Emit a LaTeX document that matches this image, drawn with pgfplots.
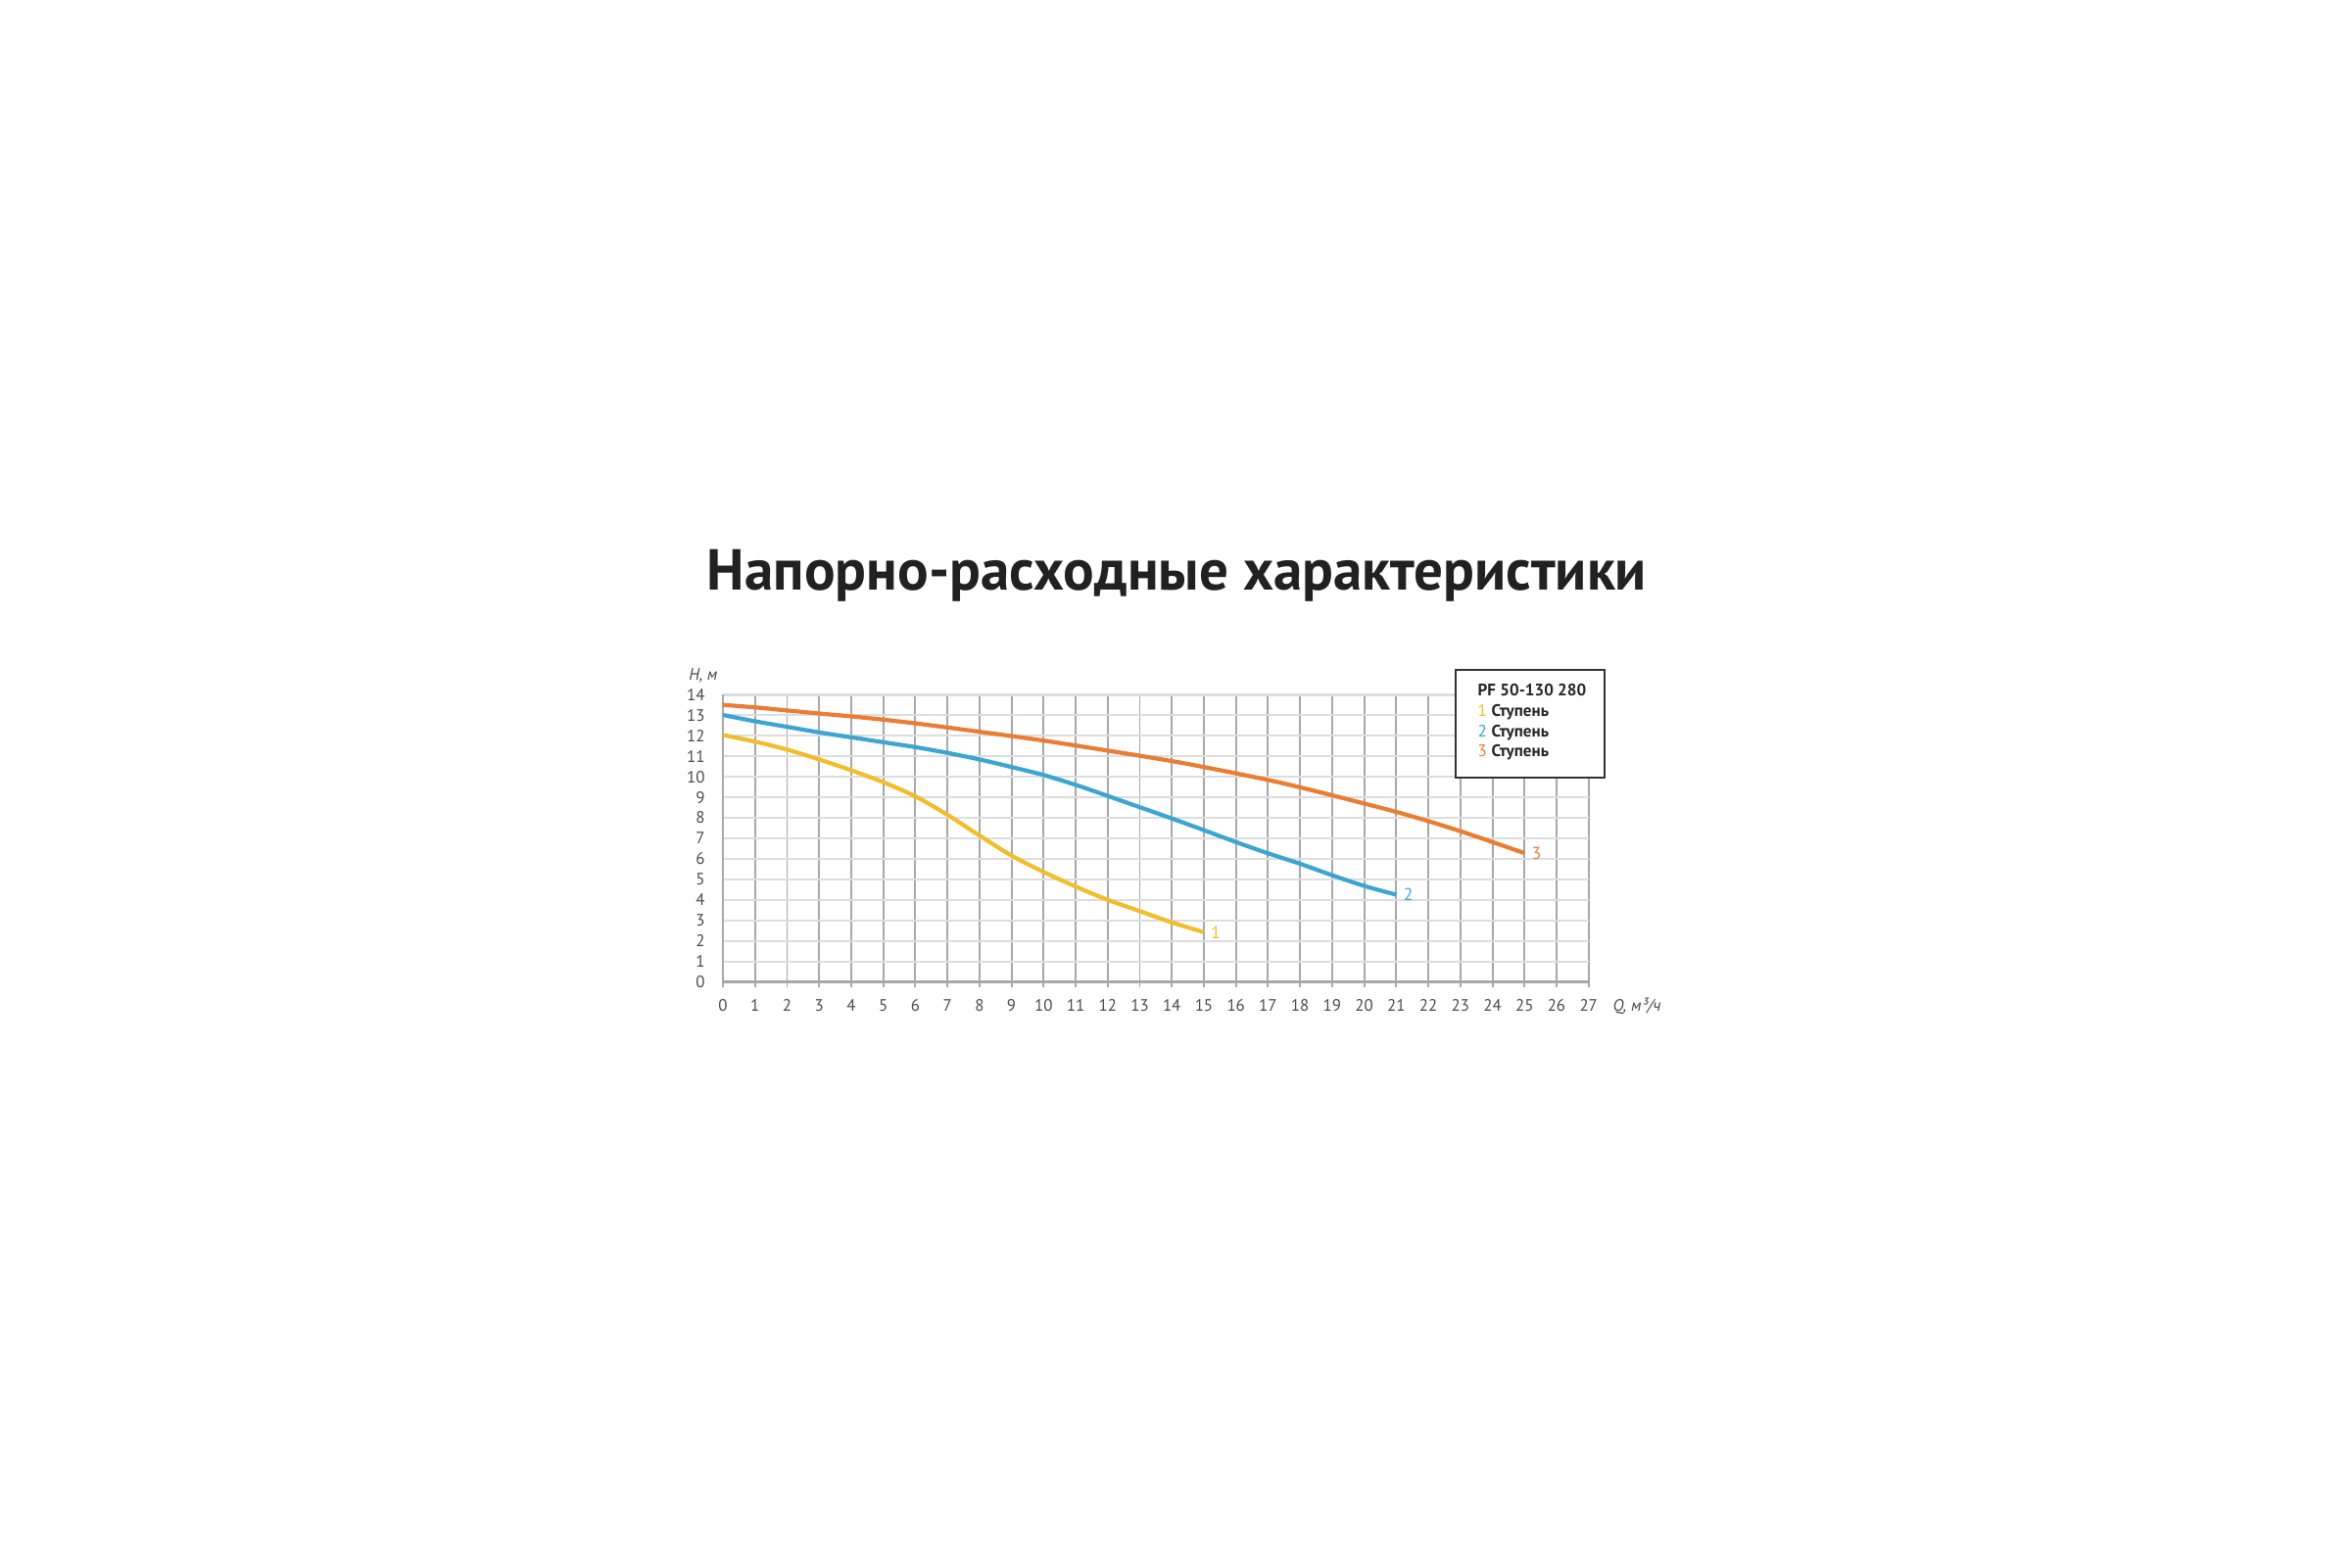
\documentclass[border=0pt]{standalone}
\usepackage{pgfplots}
\pgfplotsset{compat=1.18}
\usepackage{fontspec}
\setmainfont{PT Sans}
\definecolor{c1}{HTML}{F2BD2C}
\definecolor{c2}{HTML}{3CA6D3}
\definecolor{c3}{HTML}{EB7D33}
\definecolor{vgrid}{HTML}{A8A8A8}
\definecolor{hgrid}{HTML}{DDDDDD}
\definecolor{txt}{HTML}{4A4A4A}
\begin{document}
\begin{tikzpicture}
\useasboundingbox (0,0) rectangle (24cm,16cm);
\node[anchor=base, font=\fontsize{16.8}{20}\selectfont\bfseries, text=black!87] at (12.015cm,9.97cm) {Напорно-расходные характеристики};
\begin{axis}[
  at={(7.38cm,5.975cm)}, anchor=south west, scale only axis,
  width=8.837cm, height=2.93cm,
  xmin=0, xmax=27, ymin=0, ymax=14,
  xtick={0,...,27}, ytick={0,...,14},
  axis x line*=bottom, axis y line*=left,
  x axis line style={vgrid, line width=0.6pt},
  y axis line style={vgrid, line width=0.6pt},
  xmajorgrids, ymajorgrids,
  x grid style={vgrid, line width=0.55pt},
  y grid style={hgrid, line width=0.6pt},
  tick align=outside, major tick length=0.06cm,
  xtick style={vgrid, line width=0.55pt},
  ytick style={draw=none},
  tick label style={font=\fontsize{4.8}{5.6}\selectfont, text=txt},
  /pgf/number format/assume math mode=true,
  clip=false,
]
\addplot[c1, line width=1.2pt, smooth] coordinates {
  (0,12.04)(1,11.72)(2,11.33)(3,10.85)(4,10.32)(5,9.74)(6,9.05)(7,8.15)
  (8,7.14)(9,6.16)(10,5.36)(11,4.65)(12,4.0)(13,3.45)(14,2.9)(15,2.42)};
\addplot[c2, line width=1.2pt, smooth] coordinates {
  (0,13.02)(1,12.71)(2,12.44)(3,12.17)(4,11.93)(5,11.69)(6,11.45)(7,11.17)
  (8,10.85)(9,10.48)(10,10.09)(11,9.61)(12,9.07)(13,8.52)(14,7.97)(15,7.4)
  (16,6.82)(17,6.27)(18,5.76)(19,5.2)(20,4.68)(21,4.25)};
\addplot[c3, line width=1.2pt, smooth] coordinates {
  (0,13.51)(1,13.39)(2,13.24)(3,13.09)(4,12.95)(5,12.79)(6,12.61)(7,12.41)
  (8,12.2)(9,11.99)(10,11.77)(11,11.53)(12,11.28)(13,11.03)(14,10.77)(15,10.48)
  (16,10.17)(17,9.85)(18,9.49)(19,9.1)(20,8.7)(21,8.29)(22,7.84)(23,7.35)
  (24,6.82)(25,6.28)};
\node[anchor=west, text=c1, font=\fontsize{5}{6}\selectfont, inner sep=1pt] at (axis cs:15.1,2.42) {1};
\node[anchor=west, text=c2, font=\fontsize{5}{6}\selectfont, inner sep=1pt] at (axis cs:21.1,4.25) {2};
\node[anchor=west, text=c3, font=\fontsize{5}{6}\selectfont, inner sep=1pt] at (axis cs:25.1,6.28) {3};
\end{axis}
\node[anchor=east, font=\fontsize{4.8}{5.6}\selectfont\itshape, text=txt, inner sep=0pt] at (7.33cm,9.10cm) {H, м};
\node[anchor=west, font=\fontsize{4.8}{5.6}\selectfont\itshape, text=txt, inner sep=0pt] at (16.46cm,5.73cm) {Q, м³/ч};
\draw[draw=black!80, fill=white, line width=0.6pt] (14.86cm,8.06cm) rectangle (16.38cm,9.16cm);
\begin{scope}[every node/.style={anchor=base west, inner sep=0pt, font=\fontsize{4.85}{5.6}\selectfont, text=black!85}]
\node at (15.08cm,8.89cm) {\bfseries PF 50-130 280};
\node at (15.08cm,8.68cm) {\textcolor{c1}{1} \bfseries Ступень};
\node at (15.08cm,8.47cm) {\textcolor{c2}{2} \bfseries Ступень};
\node at (15.08cm,8.27cm) {\textcolor{c3}{3} \bfseries Ступень};
\end{scope}
\end{tikzpicture}
\end{document}
